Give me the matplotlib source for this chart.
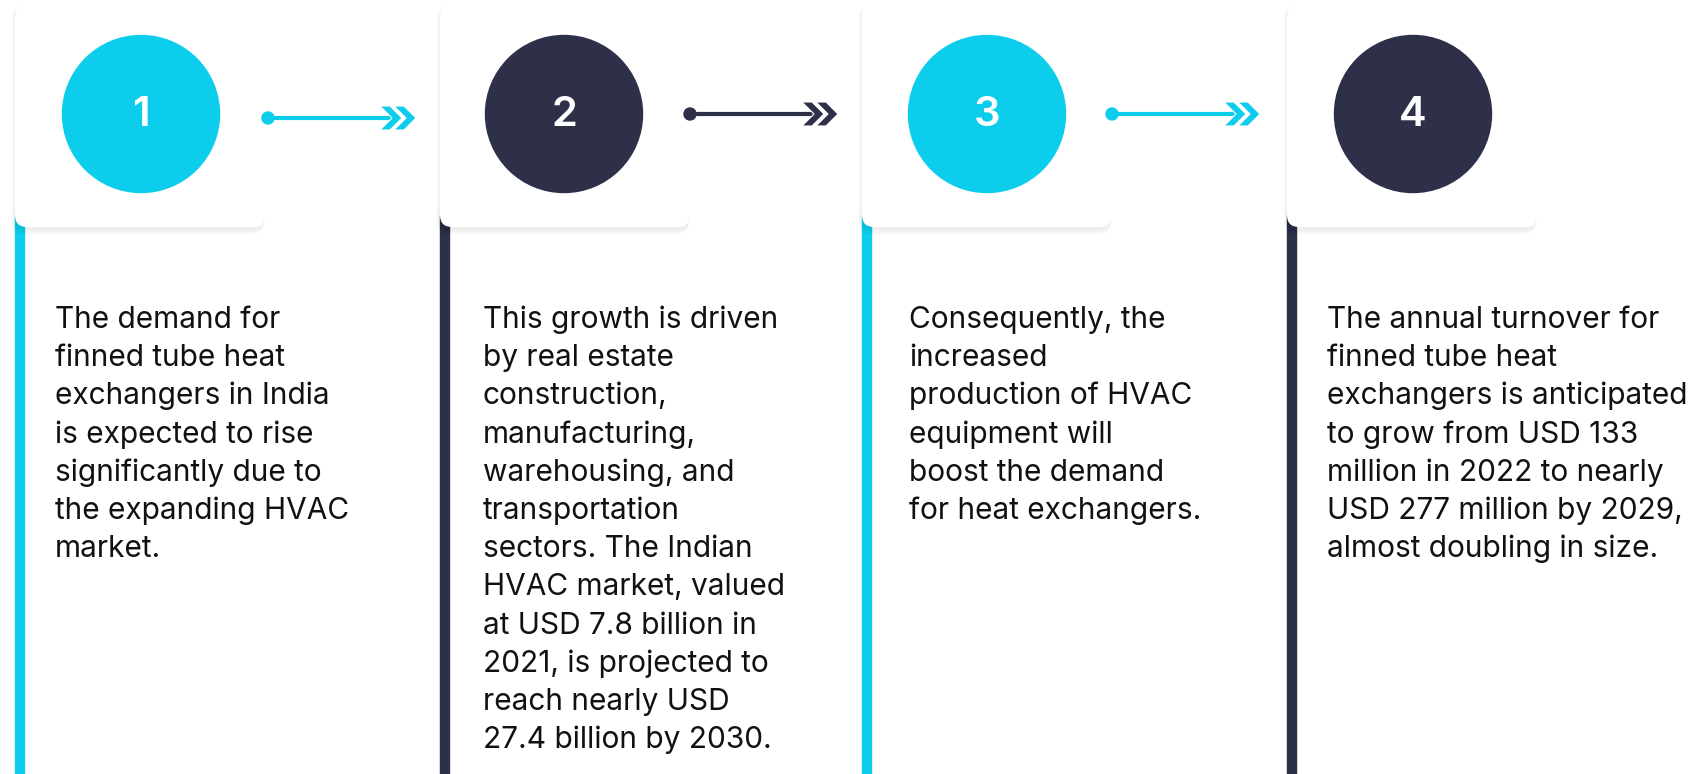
import matplotlib.pyplot as plt
from matplotlib.patches import FancyBboxPatch, Circle, Rectangle, Polygon

###################################################
# Content of the four steps
###################################################
step_numbers = ['1', '2', '3', '4']
step_colors = ['#0DCDEC', '#2E2F48', '#0DCDEC', '#2E2F48']
step_texts = [
    ['The demand for', 'finned tube heat', 'exchangers in India',
     'is expected to rise', 'significantly due to', 'the expanding HVAC',
     'market.'],
    ['This growth is driven', 'by real estate', 'construction,',
     'manufacturing,', 'warehousing, and', 'transportation',
     'sectors. The Indian', 'HVAC market, valued', 'at USD 7.8 billion in',
     '2021, is projected to', 'reach nearly USD', '27.4 billion by 2030.'],
    ['Consequently, the', 'increased', 'production of HVAC',
     'equipment will', 'boost the demand', 'for heat exchangers.'],
    ['The annual turnover for', 'finned tube heat', 'exchangers is anticipated',
     'to grow from USD 133', 'million in 2022 to nearly',
     'USD 277 million by 2029,', 'almost doubling in size.'],
]

# Layout (pixels, y grows downwards)
W, H = 1708, 774
card_left = [15, 440, 862, 1287]
circle_x = [141, 564, 987, 1413]
text_x = [55, 483, 909, 1327]
arrow_x = [268, 690, 1112]
arrow_y = [118, 114, 114]
card_w, card_top, card_bottom = 250, 5, 227
circle_y, circle_r = 114, 78.5
text_top = 328
line_gap = 38.2

fig = plt.figure(figsize=(W / 100, H / 100), dpi=100)
ax = fig.add_axes([0, 0, 1, 1])
ax.set_xlim(0, W)
ax.set_ylim(H, 0)
ax.axis('off')

for i, x0 in enumerate(card_left):
    col = step_colors[i]

    # side stripe
    ax.add_patch(Rectangle((x0, card_bottom - 12), 9, H - card_bottom + 20,
                           color=col, zorder=1))

    # soft shadow under the card
    for k in range(8, 0, -1):
        ax.add_patch(FancyBboxPatch((x0 - k * 0.5, card_top + 3 - k * 0.2),
                                    card_w + k * 0.3, card_bottom - card_top + k * 0.8,
                                    boxstyle='round,pad=0,rounding_size=12',
                                    fc='#000000', ec='none', alpha=0.008, zorder=2))
    ax.add_patch(FancyBboxPatch((x0, card_top), card_w, card_bottom - card_top,
                                boxstyle='round,pad=0,rounding_size=12',
                                fc='white', ec='none', zorder=3))

    # numbered circle
    cx = circle_x[i]
    ax.add_patch(Circle((cx, circle_y), circle_r, color=col, zorder=4))
    ax.text(cx, circle_y + 1, step_numbers[i], color='white', fontsize=30,
            fontweight='semibold', family='Inter', ha='center', va='center', zorder=5)

    # arrow to the next step
    if i < 3:
        ay = arrow_y[i]
        dot_x = arrow_x[i]
        ax.plot([dot_x, dot_x + 128], [ay, ay], color=col, lw=3, zorder=4,
                solid_capstyle='butt')
        ax.add_patch(Circle((dot_x, ay), 6, color=col, zorder=4))
        for a in (dot_x + 112, dot_x + 126):
            ax.add_patch(Polygon([(a, ay - 12), (a + 10, ay - 12),
                                  (a + 22, ay), (a + 10, ay + 12),
                                  (a, ay + 12), (a + 12, ay)],
                                 closed=True, fc=col, ec='white', lw=0.8, zorder=5))

    # description
    for j, line in enumerate(step_texts[i]):
        ax.text(text_x[i], text_top + j * line_gap, line, fontsize=21.5,
                family='Inter', color='#111111', ha='left', va='baseline',
                zorder=5)

plt.savefig('out.png', dpi=100)
